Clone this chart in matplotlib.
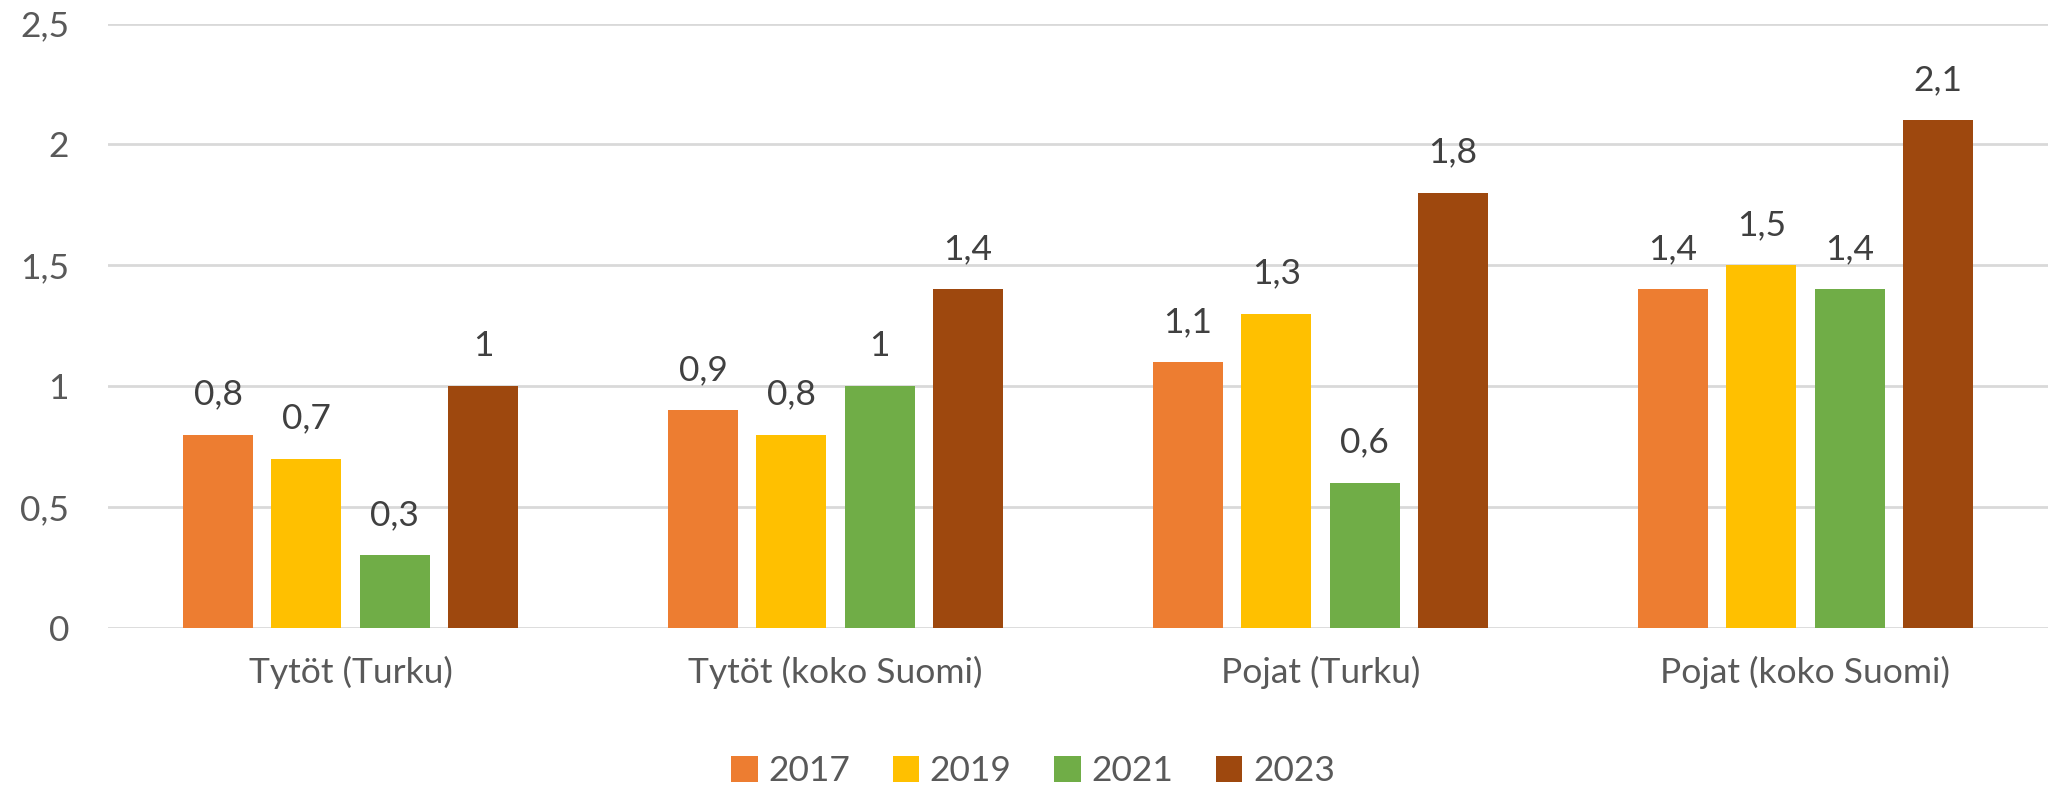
import matplotlib.pyplot as plt
import numpy as np

plt.rcParams['font.family'] = ['Lato', 'DejaVu Sans']

categories = ['Tytöt (Turku)', 'Tytöt (koko Suomi)', 'Pojat (Turku)', 'Pojat (koko Suomi)']
years = ['2017', '2019', '2021', '2023']
v2017 = [0.8, 0.9, 1.1, 1.4]
v2019 = [0.7, 0.8, 1.3, 1.5]
v2021 = [0.3, 1.0, 0.6, 1.4]
v2023 = [1.0, 1.4, 1.8, 2.1]
series = [v2017, v2019, v2021, v2023]
colors = ['#ED7D31', '#FFC000', '#70AD47', '#9E480E']

def fi(v):
    s = f'{v:g}'
    return s.replace('.', ',')

fig = plt.figure(figsize=(20.48, 7.91), dpi=100)
ax = fig.add_axes([108 / 2048, 1 - 628 / 791, (2048 - 108) / 2048, (628 - 23.5) / 791])

x = np.arange(len(categories))
step = 0.182
width = 0.144
for i, (vals, col, yr) in enumerate(zip(series, colors, years)):
    pos = x + (i - 1.5) * step
    bars = ax.bar(pos, vals, width, color=col, label=yr, zorder=3)
    for b, v in zip(bars, vals):
        ax.text(b.get_x() + b.get_width() / 2, v + 0.1, fi(v), ha='center', va='bottom',
                fontsize=25.5, color='#404040')

ax.set_xlim(-0.5, 3.5)
ax.set_ylim(0, 2.5)
ax.set_yticks([0, 0.5, 1, 1.5, 2, 2.5])
ax.set_yticklabels([fi(t) for t in [0, 0.5, 1, 1.5, 2, 2.5]])
ax.set_xticks(x)
ax.set_xticklabels(categories)
ax.grid(axis='y', color='#D9D9D9', linewidth=2, zorder=0)
for s in ax.spines.values():
    s.set_visible(False)
ax.tick_params(axis='both', length=0, labelsize=25.5, colors='#595959')
ax.tick_params(axis='y', pad=28)
ax.tick_params(axis='x', pad=20)

fig.legend(loc='center', bbox_to_anchor=(1033 / 2048, 1 - 771 / 791), ncol=4, frameon=False,
           fontsize=25.5, labelcolor='#595959', handlelength=0.75, handleheight=0.75,
           handletextpad=0.3, columnspacing=1.2)

fig.savefig('out.png', dpi=100)
